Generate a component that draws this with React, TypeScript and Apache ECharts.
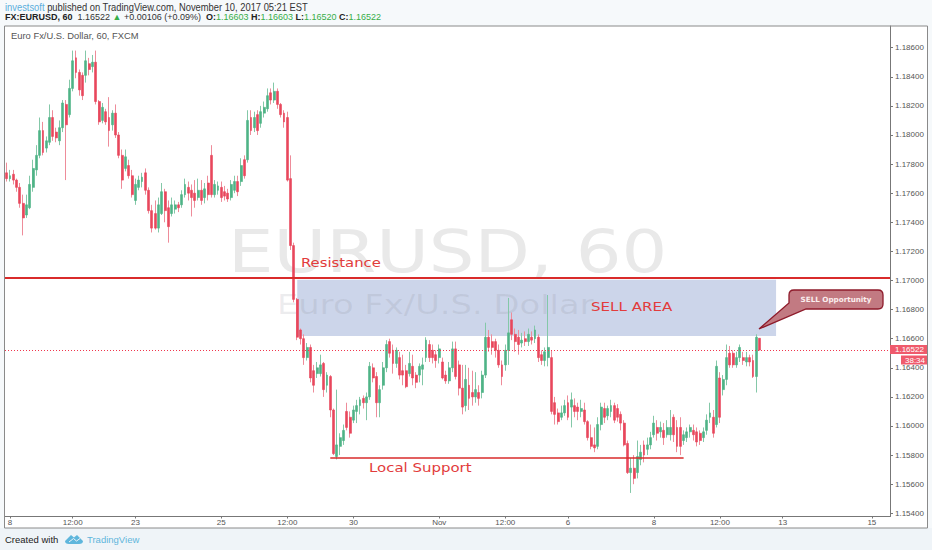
import React, { useEffect, useRef } from "react";
import * as echarts from "echarts";

const opens = [
1.1774,1.1770,1.1773,1.1769,1.1764,1.1753,1.1745,1.1750,1.1764,1.1776,
1.1786,1.1803,1.1791,1.1795,1.1812,1.1802,1.1796,1.1805,1.1821,1.1814,
1.1832,1.1853,1.1843,1.1841,1.1841,1.1849,1.1847,1.1850,1.1823,1.1810,
1.1816,1.1812,1.1807,1.1815,1.1800,1.1786,1.1777,1.1779,1.1772,1.1755,
1.1764,1.1768,1.1774,1.1762,1.1748,1.1746,1.1736,1.1746,1.1761,1.1750,
1.1746,1.1749,1.1752,1.1752,1.1759,1.1764,1.1762,1.1760,1.1757,1.1762,
1.1757,1.1767,1.1786,1.1759,1.1762,1.1764,1.1761,1.1760,1.1757,1.1762,
1.1768,1.1768,1.1783,1.1783,1.1812,1.1805,1.1814,1.1808,1.1815,1.1818,
1.1829,1.1824,1.1830,1.1821,1.1815,1.1812,1.1770,1.1724,1.1687,1.1666,
1.1660,1.1647,1.1654,1.1638,1.1636,1.1636,1.1643,1.1628,1.1634,1.1611,
1.1579,1.1586,1.1590,1.1610,1.1606,1.1604,1.1610,1.1614,1.1619,1.1616,
1.1620,1.1640,1.1634,1.1616,1.1628,1.1640,1.1658,1.1652,1.1643,1.1647,
1.1638,1.1638,1.1636,1.1641,1.1635,1.1635,1.1639,1.1647,1.1656,1.1652,
1.1649,1.1647,1.1644,1.1635,1.1631,1.1640,1.1653,1.1642,1.1626,1.1614,
1.1628,1.1623,1.1620,1.1623,1.1623,1.1635,1.1661,1.1658,1.1658,1.1652,
1.1642,1.1642,1.1652,1.1673,1.1663,1.1661,1.1657,1.1660,1.1658,1.1661,
1.1660,1.1661,1.1649,1.1645,1.1647,1.1647,1.1616,1.1609,1.1606,1.1609,
1.1616,1.1613,1.1614,1.1613,1.1610,1.1611,1.1603,1.1592,1.1587,1.1586,
1.1601,1.1612,1.1607,1.1610,1.1614,1.1612,1.1608,1.1602,1.1588,1.1568,
1.1571,1.1568,1.1577,1.1587,1.1584,1.1587,1.1594,1.1599,1.1596,1.1597,
1.1594,1.1594,1.1606,1.1599,1.1599,1.1590,1.1592,1.1596,1.1597,1.1596,
1.1595,1.1592,1.1597,1.1606,1.1606,1.1601,1.1633,1.1625,1.1632,1.1650,
1.1650,1.1642,1.1647,1.1647,1.1644,1.1647,1.1645,1.1634,1.16603,
];
const closes = [
1.1770,1.1772,1.1769,1.1764,1.1753,1.1743,1.1752,1.1766,1.1777,1.1786,
1.1803,1.1788,1.1796,1.1812,1.1799,1.1798,1.1805,1.1822,1.1807,1.1832,
1.1851,1.1843,1.1831,1.1827,1.1851,1.1845,1.1850,1.1823,1.1809,1.1819,
1.1809,1.1803,1.1815,1.1800,1.1786,1.1769,1.1785,1.1772,1.1759,1.1766,
1.1769,1.1771,1.1762,1.1748,1.1736,1.1736,1.1752,1.1761,1.1748,1.1737,
1.1752,1.1752,1.1750,1.1759,1.1766,1.1760,1.1757,1.1755,1.1762,1.1755,
1.1763,1.1759,1.1759,1.1766,1.1765,1.1757,1.1758,1.1756,1.1766,1.1768,
1.1761,1.1779,1.1772,1.1810,1.1803,1.1812,1.1803,1.1816,1.1819,1.1827,
1.1824,1.1830,1.1821,1.1814,1.1809,1.1769,1.1724,1.1687,1.1661,1.1660,
1.1647,1.1654,1.1633,1.1628,1.1640,1.1642,1.1625,1.1635,1.1611,1.1581,
1.1587,1.1592,1.1597,1.1599,1.1595,1.1611,1.1614,1.1618,1.1616,1.1620,
1.1641,1.1633,1.1616,1.1625,1.1640,1.1656,1.1650,1.1643,1.1652,1.1635,
1.1635,1.1627,1.1643,1.1633,1.1630,1.1641,1.1642,1.1659,1.1647,1.1647,
1.1645,1.1653,1.1633,1.1631,1.1640,1.1653,1.1634,1.1626,1.1613,1.1632,
1.1619,1.1620,1.1625,1.1619,1.1635,1.1661,1.1654,1.1654,1.1652,1.1642,
1.1634,1.1652,1.1664,1.1663,1.1658,1.1656,1.1659,1.1658,1.1663,1.1659,
1.1666,1.1647,1.1645,1.1651,1.1654,1.1610,1.1608,1.1603,1.1609,1.1614,
1.1606,1.1618,1.1610,1.1610,1.1612,1.1603,1.1592,1.1586,1.1585,1.1601,
1.1613,1.1606,1.1612,1.1614,1.1604,1.1606,1.1602,1.1587,1.1568,1.1571,
1.1564,1.1579,1.1582,1.1580,1.1587,1.1592,1.1602,1.1595,1.1599,1.1592,
1.1599,1.1599,1.1594,1.1586,1.1586,1.1594,1.1596,1.1599,1.1594,1.1589,
1.1590,1.1596,1.1604,1.1609,1.1595,1.1641,1.1606,1.1632,1.1647,1.1642,
1.1642,1.1647,1.1654,1.1645,1.1647,1.1644,1.1634,1.1661,1.16522,
];
const lows = [
1.1768,1.1768,1.1766,1.1761,1.1750,1.1731,1.1743,1.1749,1.1761,1.1772,
1.1784,1.1786,1.1788,1.1793,1.1796,1.1795,1.1793,1.1802,1.1769,1.1812,
1.1830,1.1839,1.1827,1.1824,1.1836,1.1841,1.1843,1.1821,1.1807,1.1808,
1.1807,1.1792,1.1803,1.1798,1.1784,1.1763,1.1775,1.1770,1.1757,1.1752,
1.1762,1.1764,1.1759,1.1746,1.1733,1.1735,1.1733,1.1745,1.1740,1.1726,
1.1744,1.1746,1.1747,1.1750,1.1757,1.1755,1.1744,1.1750,1.1755,1.1752,
1.1753,1.1755,1.1757,1.1757,1.1759,1.1754,1.1755,1.1754,1.1755,1.1760,
1.1758,1.1765,1.1770,1.1781,1.1800,1.1802,1.1800,1.1805,1.1812,1.1816,
1.1821,1.1822,1.1818,1.1812,1.1805,1.1768,1.1721,1.1685,1.1659,1.1656,
1.1642,1.1645,1.1630,1.1623,1.1633,1.1634,1.1620,1.1623,1.1606,1.1580,
1.1577,1.1580,1.1587,1.1597,1.1592,1.1602,1.1602,1.1608,1.1612,1.1604,
1.1618,1.1630,1.1606,1.1606,1.1625,1.1637,1.1647,1.1636,1.1640,1.1632,
1.1628,1.1626,1.1634,1.1628,1.1626,1.1630,1.1628,1.1644,1.1644,1.1643,
1.1640,1.1643,1.1632,1.1629,1.1629,1.1637,1.1632,1.1621,1.1608,1.1610,
1.1611,1.1614,1.1616,1.1614,1.1619,1.1633,1.1651,1.1649,1.1647,1.1640,
1.1628,1.1638,1.1642,1.1659,1.1651,1.1649,1.1654,1.1655,1.1655,1.1656,
1.1657,1.1644,1.1642,1.1641,1.1641,1.1608,1.1601,1.1601,1.1604,1.1607,
1.1604,1.1599,1.1606,1.1604,1.1606,1.1601,1.1590,1.1584,1.1582,1.1584,
1.1597,1.1602,1.1604,1.1606,1.1602,1.1603,1.1597,1.1586,1.1567,1.1554,
1.1560,1.1564,1.1573,1.1575,1.1580,1.1584,1.1592,1.1590,1.1592,1.1587,
1.1592,1.1590,1.1589,1.1582,1.1580,1.1587,1.1589,1.1592,1.1590,1.1586,
1.1587,1.1589,1.1594,1.1602,1.1592,1.1599,1.1602,1.1621,1.1628,1.1640,
1.1640,1.1640,1.1644,1.1642,1.1641,1.1641,1.1633,1.1623,1.16520,
];
const highs = [
1.1781,1.1776,1.1776,1.1770,1.1767,1.1759,1.1759,1.1772,1.1783,1.1793,
1.1812,1.1809,1.1799,1.1821,1.1817,1.1805,1.1810,1.1824,1.1824,1.1838,
1.1858,1.1858,1.1845,1.1843,1.1858,1.1853,1.1855,1.1858,1.1824,1.1822,
1.1818,1.1826,1.1817,1.1821,1.1802,1.1790,1.1790,1.1783,1.1776,1.1770,
1.1772,1.1774,1.1777,1.1764,1.1752,1.1755,1.1757,1.1767,1.1763,1.1755,
1.1757,1.1755,1.1754,1.1762,1.1770,1.1768,1.1766,1.1769,1.1770,1.1769,
1.1767,1.1772,1.1793,1.1769,1.1768,1.1768,1.1765,1.1763,1.1769,1.1772,
1.1772,1.1784,1.1786,1.1817,1.1817,1.1816,1.1817,1.1820,1.1823,1.1832,
1.1832,1.1836,1.1832,1.1822,1.1817,1.1816,1.1786,1.1726,1.1688,1.1667,
1.1663,1.1657,1.1656,1.1642,1.1644,1.1649,1.1644,1.1637,1.1635,1.1612,
1.1625,1.1595,1.1601,1.1616,1.1610,1.1614,1.1618,1.1620,1.1621,1.1623,
1.1644,1.1643,1.1637,1.1628,1.1644,1.1659,1.1660,1.1656,1.1654,1.1651,
1.1649,1.1642,1.1651,1.1649,1.1637,1.1643,1.1647,1.1661,1.1659,1.1656,
1.1652,1.1656,1.1647,1.1638,1.1644,1.1658,1.1658,1.1645,1.1642,1.1642,
1.1640,1.1638,1.1637,1.1628,1.1638,1.1671,1.1666,1.1663,1.1660,1.1656,
1.1645,1.1656,1.1688,1.1678,1.1667,1.1666,1.1664,1.1665,1.1667,1.1665,
1.1669,1.1663,1.1652,1.1654,1.1690,1.1652,1.1620,1.1612,1.1614,1.1618,
1.1621,1.1623,1.1619,1.1616,1.1618,1.1616,1.1604,1.1601,1.1599,1.1606,
1.1616,1.1616,1.1614,1.1618,1.1616,1.1615,1.1610,1.1604,1.1590,1.1578,
1.1580,1.1590,1.1587,1.1590,1.1592,1.1596,1.1607,1.1604,1.1603,1.1602,
1.1604,1.1611,1.1608,1.1604,1.1606,1.1597,1.1599,1.1601,1.1601,1.1599,
1.1597,1.1599,1.1608,1.1616,1.1611,1.1645,1.1637,1.1635,1.1656,1.1655,
1.1652,1.1651,1.1656,1.1651,1.1651,1.1649,1.1649,1.1663,1.16603,
];

const slotCount = 268;
const xTickIndex = [1, 20, 39, 65, 85, 105, 131, 151, 170, 196, 216, 235, 262];
const xTickText = ["8", "12:00", "23", "25", "12:00", "30", "Nov", "12:00", "6", "8", "12:00", "13", "15"];
const yTicks = [1.154, 1.156, 1.158, 1.16, 1.162, 1.164, 1.166, 1.168, 1.17, 1.172, 1.174, 1.176, 1.178, 1.18, 1.182, 1.184, 1.186];
const yMin = 1.15378;
const yMax = 1.18749;
const resistanceLevel = 1.17017;
const supportLevel = 1.15781;
const lastPrice = 1.16522;
const supportRange = [98, 205];
const sellAreaX = [88, 233];
const sellAreaY = [1.17005, 1.16619];

const calloutD = "M794 290 L878 290 Q883 290 883 295 L883 304 Q883 309 878 309 L806 309 L759 329 L789 303 L789 295 Q789 290 794 290 Z";
const logoD = "M65 541 L71 535 L74 537.5 L77 535 L83 541 Q83 544 79 544 L69 544 Q65 544 65 541 Z";

const SANS = "Liberation Sans, Arial, sans-serif";
const WIDE = "DejaVu Sans, Verdana, sans-serif";
const GREEN = "#4fb386";
const RED = "#e8475c";

export default function App() {
  const ref = useRef<HTMLDivElement>(null);
  useEffect(() => {
    if (!ref.current) return;
    echarts.graphic.registerShape("callout", echarts.graphic.extendPath(calloutD, {}));
    echarts.graphic.registerShape("tvlogo", echarts.graphic.extendPath(logoD, {}));
    const chart = echarts.init(ref.current, null, { renderer: "svg" });
    const categories = Array.from({ length: slotCount }, (_, i) => {
      const k = xTickIndex.indexOf(i);
      return k >= 0 ? xTickText[k] : "";
    });
    const tickSet = new Set(xTickIndex);
    const candles = opens.map((o, i) => [o, closes[i], lows[i], highs[i]]);
    const bodies = opens.map((o, i) => [o, closes[i], Math.min(o, closes[i]), Math.max(o, closes[i])]);
    const txt = (s: string, x: number, y: number, extra: any = {}, z = 10, scaleX = 1) => ({
      type: "text",
      z,
      x,
      y,
      scaleX,
      style: { text: s, fontFamily: SANS, fontSize: 9, fill: "#333", textVerticalAlign: "middle", ...extra },
    });
    chart.setOption({
      animation: false,
      backgroundColor: "#ffffff",
      grid: { left: 5, right: 42, top: 26, bottom: 33.5 },
      xAxis: {
        type: "category",
        data: categories,
        boundaryGap: true,
        axisLine: { show: true, lineStyle: { color: "#777", width: 1 } },
        axisTick: {
          show: true,
          length: 2,
          alignWithLabel: true,
          interval: (i: number) => tickSet.has(i),
          lineStyle: { color: "#777" },
        },
        axisLabel: {
          interval: (i: number) => tickSet.has(i),
          fontFamily: SANS,
          fontSize: 8,
          color: "#555",
          margin: 2,
          hideOverlap: false,
        },
        splitLine: { show: false },
      },
      yAxis: {
        type: "value",
        position: "right",
        min: yMin,
        max: yMax,
        scale: true,
        axisLine: { show: true, lineStyle: { color: "#777", width: 1 } },
        axisTick: { show: true, length: 3, customValues: yTicks, lineStyle: { color: "#777" } },
        axisLabel: {
          customValues: yTicks,
          formatter: (v: number) => v.toFixed(5),
          fontFamily: SANS,
          fontSize: 8,
          color: "#555",
          margin: 5,
          showMinLabel: true,
          showMaxLabel: true,
        },
        splitLine: { show: false },
      },
      graphic: [
        { type: "rect", z: -5, shape: { x: 0, y: 0, width: 932, height: 26 }, style: { fill: "#f6f9fb" } },
        { type: "rect", z: -5, shape: { x: 0, y: 528, width: 932, height: 22 }, style: { fill: "#eff4f8" } },
        { type: "rect", z: 8, shape: { x: 4.5, y: 26, width: 923, height: 502 }, style: { fill: "none", stroke: "#8a8a8a", lineWidth: 1 } },
        { type: "rect", z: -5, shape: { x: 928, y: 26, width: 4, height: 502 }, style: { fill: "#f6f9fb" } },
        { type: "rect", z: -5, shape: { x: 0, y: 26, width: 4.5, height: 502 }, style: { fill: "#f6f9fb" } },
        txt("EURUSD, 60", 228, 252, { fontFamily: WIDE, fontSize: 59, fill: "#e9e9e9" }, 0, 1.22),
        txt("Euro Fx/U.S. Dollar", 277, 305, { fontFamily: WIDE, fontSize: 26, fill: "rgba(110,110,120,0.12)" }, 1.5, 1.3),
        {
          type: "text", z: 10, x: 5, y: 7, scaleX: 0.936,
          style: {
            text: "{a|investsoft}{b| published on TradingView.com, November 10, 2017 05:21 EST}",
            textVerticalAlign: "middle",
            rich: {
              a: { fontFamily: SANS, fontSize: 10, fill: "#5aaedb" },
              b: { fontFamily: SANS, fontSize: 10, fill: "#333" },
            },
          },
        },
        {
          type: "text", z: 10, x: 5, y: 17,
          style: {
            text: "{b|FX:EURUSD, 60}{n|  1.16522 }{g|▲}{n| +0.00106 (+0.09%)  }{b|O:}{g|1.16603}{b| H:}{g|1.16603}{b| L:}{g|1.16520}{b| C:}{g|1.16522}",
            textVerticalAlign: "middle",
            rich: {
              b: { fontFamily: SANS, fontSize: 9, fontWeight: "bold", fill: "#222" },
              n: { fontFamily: SANS, fontSize: 9, fill: "#333" },
              g: { fontFamily: SANS, fontSize: 9, fill: "#37ae48" },
            },
          },
        },
        txt("Euro Fx/U.S. Dollar, 60, FXCM", 11, 35, { fontSize: 9.4, fill: "#555" }),
        txt("Resistance", 301, 262, { fontFamily: WIDE, fontSize: 13, fill: "#e23c3c" }, 10, 1.14),
        txt("SELL AREA", 591, 306, { fontFamily: WIDE, fontSize: 13, fill: "#e23c3c" }, 10, 1.16),
        txt("Local Support", 369, 467, { fontFamily: WIDE, fontSize: 13, fill: "#e23c3c" }, 10, 1.15),
        { type: "callout", z: 9, x: 0, y: 0, style: { fill: "#c27a82", stroke: "#8e1b2b", lineWidth: 1.3 } },
        txt("SELL Opportunity", 836, 299.5, { fontFamily: WIDE, fontSize: 7.2, fontWeight: "bold", fill: "#fbeeee", textAlign: "center" }),
        { type: "rect", z: 9, shape: { x: 890, y: 345, width: 37, height: 9 }, style: { fill: "#ef5a6c" } },
        txt("1.16522", 895, 349.7, { fontSize: 8, fill: "#fff" }),
        { type: "rect", z: 9, shape: { x: 901, y: 355.5, width: 26, height: 9 }, style: { fill: "#ef5a6c" } },
        txt("38:34", 905, 360.2, { fontSize: 8, fill: "#fff" }),
        txt("Created with", 5, 539, { fontSize: 9.5, fill: "#222" }),
        { type: "tvlogo", z: 10, x: 0, y: 0, style: { fill: "#5fb6dc" } },
        { type: "polyline", z: 11, shape: { points: [[69, 542], [73.5, 538.5], [76.5, 541], [80, 538.5]] }, style: { stroke: "#eff4f8", fill: "none", lineWidth: 1 } },
        txt("TradingView", 87, 539, { fontSize: 9.5, fill: "#5fb6dc" }),
      ],
      series: [
        {
          name: "wicks",
          type: "candlestick",
          z: 2,
          barWidth: 1,
          data: candles,
          itemStyle: { color: "#84c8a8", color0: "#ee8c9a", borderColor: "#84c8a8", borderColor0: "#ee8c9a", borderWidth: 1 },
          markArea: {
            silent: true,
            z: 1,
            itemStyle: { color: "#ccd5ea", opacity: 1 },
            data: [[{ xAxis: sellAreaX[0], yAxis: sellAreaY[0] }, { xAxis: sellAreaX[1], yAxis: sellAreaY[1] }]],
          },
          markLine: {
            silent: true,
            symbol: "none",
            precision: 6,
            label: { show: false },
            data: [
              { yAxis: resistanceLevel, lineStyle: { color: "#d92b2b", width: 2, type: "solid", opacity: 1 } },
              { yAxis: lastPrice, lineStyle: { color: "#f0364e", width: 1, type: [1, 2], opacity: 1 } },
              [
                { xAxis: supportRange[0], yAxis: supportLevel, lineStyle: { color: "#d92b2b", width: 1.5, type: "solid" } },
                { xAxis: supportRange[1], yAxis: supportLevel },
              ],
            ],
          },
        },
        {
          name: "bodies",
          type: "candlestick",
          z: 3,
          barWidth: 2.4,
          data: bodies,
          itemStyle: { color: GREEN, color0: RED, borderColor: GREEN, borderColor0: RED, borderWidth: 0.6 },
        },
      ],
    });
    return () => chart.dispose();
  }, []);
  return <div ref={ref} style={{ position: "fixed", left: 0, top: 0, width: 932, height: 550 }} />;
}
